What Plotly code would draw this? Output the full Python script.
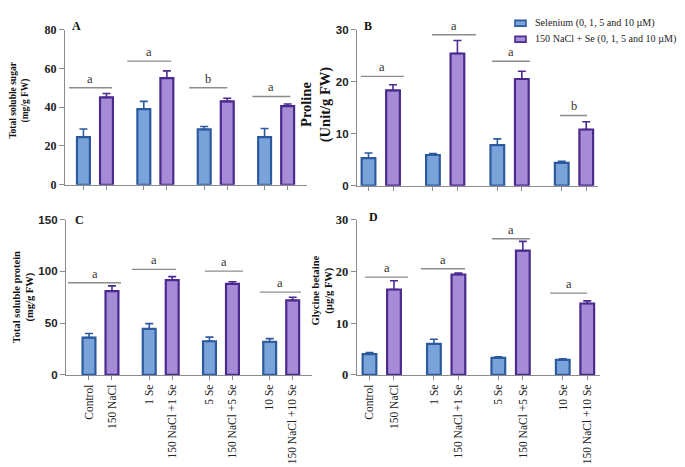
import plotly.graph_objects as go

W, H = 685, 467

# ---------------- data ----------------
categories = ["Control", "150 NaCl", "1 Se", "150 NaCl +1 Se",
              "5 Se", "150 NaCl +5 Se", "10 Se", "150 NaCl +10 Se"]
series_names = ["Selenium (0, 1, 5 and 10 \u00b5M)", "150 NaCl + Se (0, 1, 5 and 10 \u00b5M)"]

sugar_se = [24.5, 39, 28.5, 24.5]
sugar_se_err = [4.2, 4.0, 1.5, 4.5]
sugar_nacl = [45, 55, 43, 40.5]
sugar_nacl_err = [2.0, 3.7, 1.6, 1.1]
sugar_letters = ["a", "a", "b", "a"]
sugar_sig = [50, 63.7, 50, 45.5]

proline_se = [5.3, 5.9, 7.8, 4.4]
proline_se_err = [1.0, 0.3, 1.2, 0.3]
proline_nacl = [18.3, 25.4, 20.5, 10.8]
proline_nacl_err = [1.1, 2.5, 1.5, 1.5]
proline_letters = ["a", "a", "a", "b"]
proline_sig = [21, 29, 23.9, 13.5]

protein_se = [36, 44.5, 32.5, 32]
protein_se_err = [4, 5, 4, 3]
protein_nacl = [81, 91.5, 88, 72]
protein_nacl_err = [5, 3.5, 2, 3]
protein_letters = ["a", "a", "a", "a"]
protein_sig = [89, 102, 100.3, 80]

gb_se = [4.0, 6.0, 3.3, 2.9]
gb_se_err = [0.3, 0.9, 0.2, 0.2]
gb_nacl = [16.5, 19.4, 24.0, 13.8]
gb_nacl_err = [1.7, 0.3, 1.8, 0.5]
gb_letters = ["a", "a", "a", "a"]
gb_sig = [18.9, 20.5, 26.3, 15.8]

# ---------------- styles ----------------
SERIF = "Liberation Serif, Times New Roman, serif"
SANS = "Liberation Sans, Arial, sans-serif"
BLUE_FILL, BLUE_LINE = "#7aa3da", "#2c5a9e"
PURP_FILL, PURP_LINE = "#a68bd7", "#4a2a8f"
AXIS_COL = "#8c8c8c"
SIG_COL = "#8c8c8c"

def px_x(p):
    return p / W

def px_y(p):
    return 1 - p / H

panels = [
    dict(key="A", se=sugar_se, se_err=sugar_se_err, na=sugar_nacl, na_err=sugar_nacl_err,
         letters=sugar_letters, sig=sugar_sig, ymax=80, dtick=20,
         xdom=(57, 299), ydom=(175, 15), gap=2.62, xr=(-0.8, 9.7),
         tickfont=dict(family=SERIF, size=12, color="#222"),
         title="Total soluble sugar<br>(mg/g FW)", tsize=9.5, tpos=(11.5, 88),
         lpos=(68, 11), labels=False,
         spans=[(-0.63, 1.24), (-0.72, 1.19), (-0.65, 1.0), (-0.53, 1.12)]),
    dict(key="B", se=proline_se, se_err=proline_se_err, na=proline_nacl, na_err=proline_nacl_err,
         letters=proline_letters, sig=proline_sig, ymax=30, dtick=10,
         xdom=(349, 590), ydom=(176, 15), gap=2.63, xr=(-0.47, 9.37),
         tickfont=dict(family=SANS, size=11.5, color="#222"),
         title="Proline<br>(Unit/g FW)", tsize=14.5, tpos=(308, 93),
         lpos=(360, 11), labels=False,
         spans=[(-0.31, 1.45), (-0.04, 1.76), (-0.22, 1.33), (-0.07, 1.03)]),
    dict(key="C", se=protein_se, se_err=protein_se_err, na=protein_nacl, na_err=protein_nacl_err,
         letters=protein_letters, sig=protein_sig, ymax=150, dtick=50,
         xdom=(58, 304), ydom=(371, 211), gap=2.62, xr=(-1.0, 9.7),
         tickfont=dict(family=SANS, size=11.5, color="#222"),
         title="Total soluble protein<br>(mg/g FW)", tsize=10.5, tpos=(16, 291),
         lpos=(71, 211), labels=True,
         spans=[(-0.91, 1.39), (-0.75, 1.16), (-0.2, 1.46), (-0.43, 1.36)]),
    dict(key="D", se=gb_se, se_err=gb_se_err, na=gb_nacl, na_err=gb_nacl_err,
         letters=gb_letters, sig=gb_sig, ymax=30, dtick=10,
         xdom=(349, 592), ydom=(371, 211), gap=2.63, xr=(-0.51, 9.41),
         tickfont=dict(family=SERIF, size=12.5, color="#222"),
         title="Glycine betaine<br>(\u00b5g/g FW)", tsize=10.5, tpos=(315, 284),
         lpos=(365, 208), labels=True,
         spans=[(-0.18, 1.57), (-0.53, 1.27), (-0.26, 1.29), (-0.52, 0.99)]),
]

fig = go.Figure()
annotations = []
shapes = []

for i, p in enumerate(panels):
    n = i + 1
    xa = "x" if n == 1 else f"x{n}"
    ya = "y" if n == 1 else f"y{n}"
    xl = "xaxis" if n == 1 else f"xaxis{n}"
    yl = "yaxis" if n == 1 else f"yaxis{n}"

    gpos = [g * p["gap"] for g in range(len(p["se"]))]
    xs_se = gpos
    xs_na = [g + 1 for g in gpos]

    fig.add_trace(go.Bar(
        x=xs_se, y=p["se"], width=0.56, xaxis=xa, yaxis=ya, showlegend=False,
        name=series_names[0],
        marker=dict(color=BLUE_FILL, line=dict(color=BLUE_LINE, width=2.2)),
        error_y=dict(type="data", array=p["se_err"], arrayminus=[0] * 4, symmetric=False,
                     color=BLUE_LINE, thickness=1.6, width=4),
    ))
    fig.add_trace(go.Bar(
        x=xs_na, y=p["na"], width=0.56, xaxis=xa, yaxis=ya, showlegend=False,
        name=series_names[1],
        marker=dict(color=PURP_FILL, line=dict(color=PURP_LINE, width=2.2)),
        error_y=dict(type="data", array=p["na_err"], arrayminus=[0] * 4, symmetric=False,
                     color=PURP_LINE, thickness=1.6, width=4),
    ))

    tickvals = []
    for a, b in zip(xs_se, xs_na):
        tickvals += [a, b]
    ticktext = categories if p["labels"] else [""] * len(categories)

    fig.layout[xl] = dict(
        domain=[px_x(p["xdom"][0]), px_x(p["xdom"][1])],
        anchor=ya, range=list(p["xr"]), showgrid=False, zeroline=False,
        showline=True, linecolor=AXIS_COL, linewidth=1.3,
        ticks="outside", ticklen=4, tickcolor=AXIS_COL, tickwidth=1,
        tickvals=tickvals, ticktext=ticktext, tickangle=-90,
        tickfont=dict(family=SERIF, size=11.5, color="#222"),
    )
    ymax = p["ymax"]
    yticks = list(range(0, ymax + 1, p["dtick"]))
    fig.layout[yl] = dict(
        domain=[px_y(p["ydom"][0]), px_y(p["ydom"][1])],
        anchor=xa, range=[0, ymax], showgrid=False, zeroline=False,
        showline=True, linecolor=AXIS_COL, linewidth=1.3,
        ticks="outside", ticklen=5, tickcolor=AXIS_COL, tickwidth=1,
        tickvals=yticks, ticktext=[f"<b>{v}</b>" for v in yticks],
        tickfont=p["tickfont"],
    )

    # significance lines & letters
    for g, (lvl, let, sp) in enumerate(zip(p["sig"], p["letters"], p["spans"])):
        x0 = gpos[g] + sp[0]
        x1 = gpos[g] + sp[1]
        shapes.append(dict(type="line", xref=xa, yref=ya, x0=x0, x1=x1, y0=lvl, y1=lvl,
                           line=dict(color=SIG_COL, width=1.4)))
        annotations.append(dict(xref=xa, yref=ya, x=(x0 + x1) / 2, y=lvl, text=let,
                                showarrow=False, yanchor="bottom", yshift=0,
                                font=dict(family=SERIF, size=12.5, color="#333")))

    # axis titles
    annotations.append(dict(xref="paper", yref="paper", x=px_x(p["tpos"][0]), y=px_y(p["tpos"][1]),
                            text=f"<b>{p['title']}</b>", textangle=-90, showarrow=False,
                            xanchor="center", yanchor="middle",
                            font=dict(family=SERIF, size=p["tsize"], color="#111")))
    # panel letters
    annotations.append(dict(xref="paper", yref="paper", x=px_x(p["lpos"][0]), y=px_y(p["lpos"][1]),
                            text=f"<b>{p['key']}</b>", showarrow=False,
                            xanchor="center", yanchor="middle",
                            font=dict(family=SERIF, size=12, color="#111")))

# custom legend
leg_rows = [(8.5, BLUE_FILL, BLUE_LINE, series_names[0]),
            (25, PURP_FILL, PURP_LINE, series_names[1])]
for yc, fc, lc, txt in leg_rows:
    shapes.append(dict(type="rect", xref="paper", yref="paper",
                       x0=px_x(507), x1=px_x(518), y0=px_y(yc + 3), y1=px_y(yc - 3),
                       fillcolor=fc, line=dict(color=lc, width=1.6)))
    annotations.append(dict(xref="paper", yref="paper", x=px_x(525), y=px_y(yc), text=txt,
                            showarrow=False, xanchor="left", yanchor="middle",
                            font=dict(family=SERIF, size=10.1, color="#222")))

fig.update_layout(
    width=W, height=H, margin=dict(l=0, r=0, t=0, b=0),
    paper_bgcolor="white", plot_bgcolor="white",
    barmode="overlay", showlegend=False,
    annotations=annotations, shapes=shapes,
)

fig.write_html("out.html")
